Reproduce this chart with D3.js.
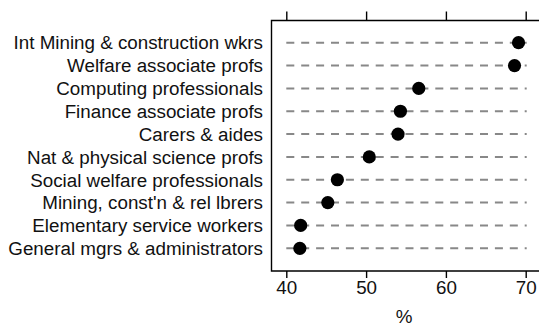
<!DOCTYPE html>
<html>
<head>
<meta charset="utf-8">
<script src="https://cdn.jsdelivr.net/npm/d3@7"></script>
<style>
  html, body { margin: 0; padding: 0; background: #fff; }
  svg { display: block; }
  text { font-family: "Liberation Sans", Arial, sans-serif; fill: #111; }
</style>
</head>
<body>
<svg id="chart" width="539" height="327"></svg>
<script>
// Occupations, top to bottom
const categories = [
  "Int Mining & construction wkrs",
  "Welfare associate profs",
  "Computing professionals",
  "Finance associate profs",
  "Carers & aides",
  "Nat & physical science profs",
  "Social welfare professionals",
  "Mining, const'n & rel lbrers",
  "Elementary service workers",
  "General mgrs & administrators"
];
// Percentage for each occupation
const values = [69.1, 68.6, 56.6, 54.3, 54.0, 50.4, 46.4, 45.2, 41.8, 41.7];
const tickValues = [40, 50, 60, 70];
const axisTitle = "%";

const fontSize = "18.8px";
const box = { left: 271.5, top: 20.5, bottom: 271, right: 600 };

const svg = d3.select("#chart");

const x = d3.scaleLinear().domain([40, 70]).range([286.3, 525.7]);
const y = d3.scalePoint().domain(categories).range([42.7, 248.3]);

// Plot frame (right side runs past the edge)
svg.append("path")
  .attr("d", `M${box.right},${box.top}H${box.left}V${box.bottom}H${box.right}`)
  .attr("fill", "none")
  .attr("stroke", "#000")
  .attr("stroke-width", 1.4);

// Top axis: ticks only
const topAxis = d3.axisTop(x).tickValues(tickValues).tickSize(9).tickFormat("");
svg.append("g")
  .attr("transform", `translate(0,${box.top})`)
  .call(topAxis)
  .call(g => g.select(".domain").remove())
  .call(g => g.selectAll("line").attr("stroke", "#000").attr("stroke-width", 1.4));

// Bottom axis with labels
const bottomAxis = d3.axisBottom(x).tickValues(tickValues).tickSize(7).tickPadding(3).tickFormat(d3.format("d"));
svg.append("g")
  .attr("transform", `translate(0,${box.bottom})`)
  .call(bottomAxis)
  .call(g => g.select(".domain").remove())
  .call(g => g.selectAll("line").attr("stroke", "#000").attr("stroke-width", 1.4))
  .call(g => g.selectAll("text")
    .style("font-family", "'Liberation Sans', Arial, sans-serif")
    .style("font-size", fontSize)
    .attr("fill", "#111"));

// Axis title
svg.append("text")
  .attr("x", 404)
  .attr("y", 322.5)
  .attr("text-anchor", "middle")
  .style("font-size", fontSize)
  .text(axisTitle);

// Dashed guide lines
svg.append("g").selectAll("line")
  .data(categories)
  .join("line")
  .attr("x1", x(40))
  .attr("x2", x(70) + 1)
  .attr("y1", d => y(d))
  .attr("y2", d => y(d))
  .attr("stroke", "#888")
  .attr("stroke-width", 2)
  .attr("stroke-dasharray", "8,6.9");

// Category labels
svg.append("g").selectAll("text")
  .data(categories)
  .join("text")
  .attr("x", 263)
  .attr("y", d => y(d))
  .attr("dy", "0.36em")
  .attr("text-anchor", "end")
  .style("font-size", fontSize)
  .text(d => d);

// Dots
svg.append("g").selectAll("circle")
  .data(values)
  .join("circle")
  .attr("cx", d => x(d))
  .attr("cy", (d, i) => y(categories[i]))
  .attr("r", 6.6)
  .attr("fill", "#000");
</script>
</body>
</html>
